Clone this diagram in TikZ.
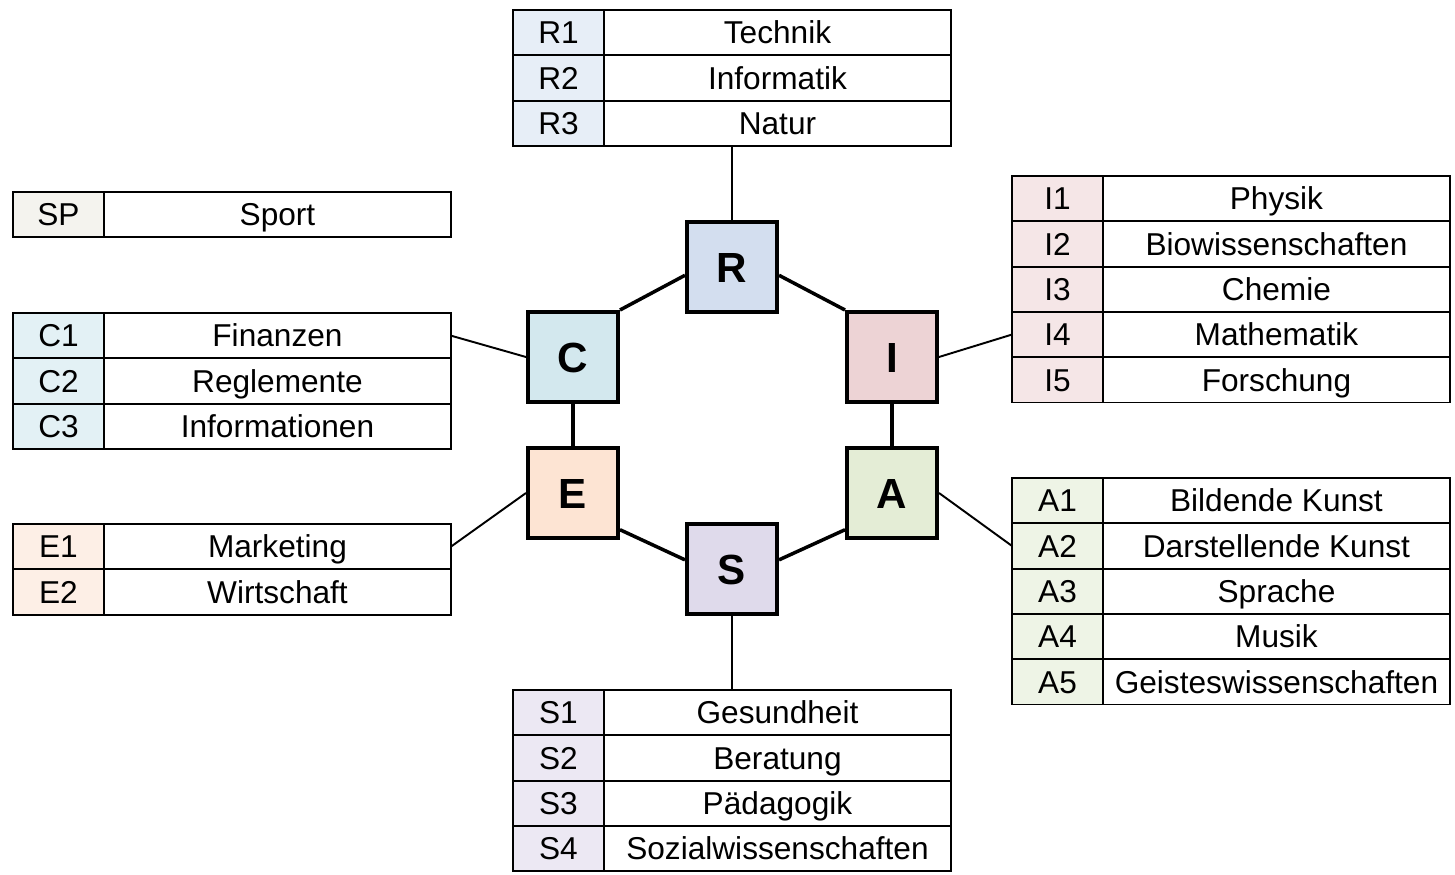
\documentclass[tikz,border=0pt]{standalone}
\usepackage{fontspec}
\setmainfont{Liberation Sans}

\definecolor{rbox}{HTML}{D3DEEF}
\definecolor{rcode}{HTML}{E7EEF7}
\definecolor{ibox}{HTML}{EDD3D5}
\definecolor{icode}{HTML}{F5E6E7}
\definecolor{abox}{HTML}{E4EDD6}
\definecolor{acode}{HTML}{EEF4E6}
\definecolor{sbox}{HTML}{DFDAEB}
\definecolor{scode}{HTML}{ECE8F3}
\definecolor{ebox}{HTML}{FDE4D3}
\definecolor{ecode}{HTML}{FDEFE6}
\definecolor{cbox}{HTML}{D3E8EE}
\definecolor{ccode}{HTML}{E3F1F5}
\definecolor{spcode}{HTML}{F4F3EE}

% one table: name, left x, top y, colour, rows
\newcommand{\fachtabelle}[5]{%
  \foreach \kurz/\fach [count=\i] in {#5} {
    \node [codecell, fill=#4] (#1c\i) at ({#2},{#3+45.3*(\i-1)}) {\kurz};
    \node [textcell] (#1t\i) at ({#2+91},{#3+45.3*(\i-1)}) {\fach};
  }%
}

\begin{document}
\begin{tikzpicture}[x=0.02cm, y=-0.02cm,
  cell/.style={draw, line width=1.1pt, inner sep=0pt, outer sep=0pt,
    minimum height=0.906cm, anchor=north west,
    text height=12.9pt, text depth=0pt, font=\fontsize{18}{20}\selectfont},
  codecell/.style={cell, minimum width=1.82cm},
  textcell/.style={cell, minimum width=6.94cm},
  typ/.style={draw, line width=2.3pt, minimum size=1.8cm, inner sep=0pt,
    text height=17.2pt, text depth=0pt, font=\fontsize{24}{26}\selectfont\bfseries},
  link/.style={line width=1.1pt},
  ring/.style={line width=2pt}]
  \useasboundingbox (0,0) rectangle (1455,875);

  \node [typ, fill=rbox] (R) at (732,267) {R};
  \node [typ, fill=cbox] (C) at (573,357) {C};
  \node [typ, fill=ibox] (I) at (892,357) {I};
  \node [typ, fill=ebox] (E) at (573,493) {E};
  \node [typ, fill=abox] (A) at (892,493) {A};
  \node [typ, fill=sbox] (S) at (732,569) {S};

  \fachtabelle{R}{513}{10}{rcode}{R1/Technik, R2/Informatik, R3/Natur}
  \fachtabelle{SP}{13}{192}{spcode}{SP/Sport}
  \fachtabelle{C}{13}{313}{ccode}{C1/Finanzen, C2/Reglemente, C3/Informationen}
  \fachtabelle{E}{13}{524}{ecode}{E1/Marketing, E2/Wirtschaft}
  \fachtabelle{I}{1012}{176}{icode}{I1/Physik, I2/Biowissenschaften, I3/Chemie,
    I4/Mathematik, I5/Forschung}
  \fachtabelle{A}{1012}{478}{acode}{A1/Bildende Kunst, A2/Darstellende Kunst,
    A3/Sprache, A4/Musik, A5/Geisteswissenschaften}
  \fachtabelle{S}{513}{690}{scode}{S1/Gesundheit, S2/Beratung, S3/Pädagogik,
    S4/Sozialwissenschaften}

  % hexagon
  \draw [ring] (R.190) -- (C.north east);
  \draw [ring] (R.-10) -- (I.north west);
  \draw [ring] (C.south) -- (E.north);
  \draw [ring] (I.south) -- (A.north);
  \draw [ring] (E.-38) -- (S.169);
  \draw [ring] (A.-142) -- (S.11);

  % tables
  \draw [link] (R.north) -- (R.north |- Rt3.south);
  \draw [link] (S.south) -- (S.south |- St1.north);
  \draw [link] (Ct1.east) -- (C.west);
  \draw [link] (Et1.east) -- (E.west);
  \draw [link] (I.east) -- (Ic4.west);
  \draw [link] (A.east) -- (Ac2.west);
\end{tikzpicture}
\end{document}
